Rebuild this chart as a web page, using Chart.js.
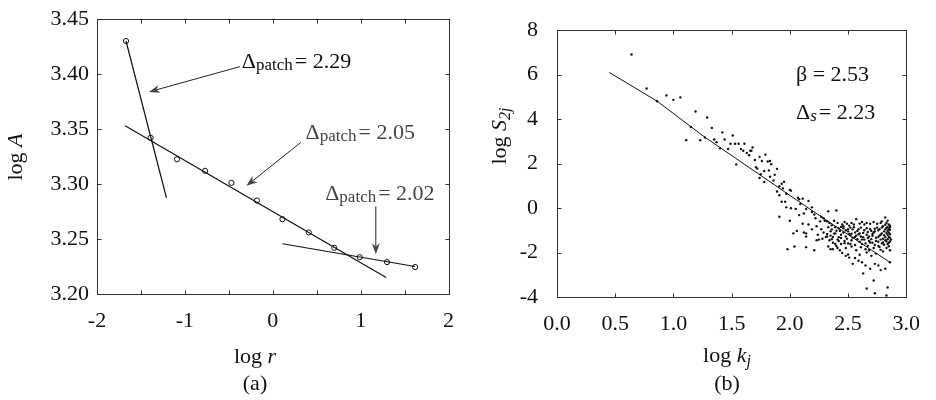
<!DOCTYPE html>
<html>
<head>
<meta charset="utf-8">
<script src="https://cdn.jsdelivr.net/npm/chart.js@4.4.0/dist/chart.umd.min.js"></script>
<style>
    body { margin: 0; background: #fff; }
    #wrapA { position: absolute; left: 0; top: 0; width: 470px; height: 400px; }
    #wrapB { position: absolute; left: 470px; top: 0; width: 466px; height: 400px; }
</style>
</head>
<body>
<div id="wrapA"><canvas id="chartA"></canvas></div>
<div id="wrapB"><canvas id="chartB"></canvas></div>
<script>
const SERIF = "'Liberation Serif', 'Times New Roman', serif";

// (a) log A against log r
const aLogR = [-1.67, -1.39, -1.09, -0.77, -0.47, -0.18, 0.11, 0.41, 0.70, 0.99, 1.30, 1.62];
const aLogA = [3.430, 3.342, 3.3225, 3.312, 3.301, 3.285, 3.268, 3.256, 3.242, 3.2335, 3.229, 3.2245];
const aFit1X = [-1.67, -1.21];
const aFit1Y = [3.430, 3.2875];
const aFit2X = [-1.68, 1.29];
const aFit2Y = [3.353, 3.215];
const aFit3X = [0.11, 1.62];
const aFit3Y = [3.2457, 3.225];
const aXTicks = [-2, -1, 0, 1, 2];
const aXMarks = [-2, -1.5, -1, -0.5, 0, 0.5, 1, 1.5, 2];
const aYTicks = [3.20, 3.25, 3.30, 3.35, 3.40, 3.45];
const aDeltas = ["2.29", "2.05", "2.02"];

// (b) log S2j against log kj
const bFitX = [0.45, 0.86, 1.26, 2.01, 2.32, 2.86];
const bFitY = [6.09, 4.80, 3.22, 0.53, -0.57, -2.44];
const bPoints = [
    [0.64, 6.90], [0.77, 5.37], [0.86, 4.80], [0.94, 5.06], [1.00, 4.86], [1.06, 4.97], [1.19, 4.34], [1.15, 3.64],
    [1.29, 4.07], [1.33, 3.60], [1.11, 3.05], [1.23, 3.05], [1.27, 3.17], [1.42, 3.40], [1.51, 3.26], [1.35, 3.08],
    [1.37, 2.96], [1.44, 3.08], [1.40, 2.68], [1.47, 2.65], [1.49, 2.89], [1.53, 2.89], [1.56, 2.89], [1.61, 2.89],
    [1.68, 2.72], [1.58, 2.65], [1.60, 2.57], [1.63, 2.47], [1.66, 2.57], [1.67, 2.57], [1.65, 2.37], [1.54, 1.96],
    [1.70, 2.16], [1.74, 2.30], [1.79, 2.40], [1.76, 2.11], [1.81, 2.09], [1.83, 2.11], [1.84, 1.97], [1.71, 1.83],
    [1.72, 1.77], [1.89, 1.76], [1.82, 1.69], [1.78, 1.66], [1.75, 1.52], [1.74, 1.35], [1.83, 1.41], [1.87, 1.49],
    [1.78, 1.17], [1.86, 1.24], [1.93, 1.09], [1.95, 1.18], [1.91, 0.98], [1.94, 0.88], [1.89, 0.74], [1.97, 0.64],
    [2.00, 0.81], [1.91, 0.57], [1.93, 0.28], [1.96, 0.28], [2.01, 0.78], [2.07, 0.46], [2.08, 0.39], [2.11, 0.42],
    [2.16, 0.32], [2.09, 0.18], [1.97, 0.03], [2.01, -0.01], [2.05, -0.04], [2.14, -0.04], [2.19, 0.03], [1.91, -0.39],
    [2.00, -0.57], [2.08, -0.32], [2.12, -0.25], [2.19, -0.18], [2.21, -0.29], [2.22, -0.46], [2.27, -0.39], [2.29, -0.46],
    [2.30, -0.57], [2.26, -0.60], [2.11, -0.71], [2.16, -0.74], [2.23, -0.82], [2.06, -1.03], [2.12, -1.10], [2.19, -0.96],
    [2.14, -1.14], [2.03, -1.14], [2.25, -1.42], [2.32, -1.28], [2.28, -1.38], [2.23, -1.45], [2.14, -1.28], [1.98, -1.85],
    [2.04, -1.73], [2.14, -1.76], [2.21, -1.90],
    [2.33, -0.15], [2.40, -0.11], [2.57, -0.50], [2.82, -0.43],
    [2.32, -0.60], [2.34, -0.67], [2.38, -0.57], [2.41, -0.67], [2.45, -0.74], [2.47, -0.63], [2.49, -0.71], [2.51, -0.79],
    [2.53, -0.67], [2.55, -0.74], [2.60, -0.70], [2.62, -0.63], [2.64, -0.74], [2.66, -0.67], [2.69, -0.71], [2.72, -0.63],
    [2.75, -0.71], [2.78, -0.67], [2.79, -0.60], [2.83, -0.67], [2.85, -0.74], [2.84, -0.57],
    [2.33, -0.86], [2.36, -0.96], [2.39, -0.86], [2.43, -1.03], [2.46, -0.91], [2.48, -1.00], [2.52, -0.88], [2.54, -0.96],
    [2.58, -1.03], [2.61, -0.88], [2.64, -1.00], [2.66, -0.91], [2.70, -1.03], [2.73, -0.93], [2.76, -1.00], [2.79, -0.88],
    [2.82, -0.96], [2.84, -1.03], [2.86, -0.86],
    [2.32, -1.17], [2.35, -1.24], [2.39, -1.14], [2.42, -1.31], [2.44, -1.20], [2.48, -1.28], [2.51, -1.17], [2.54, -1.34],
    [2.57, -1.24], [2.60, -1.14], [2.63, -1.31], [2.66, -1.20], [2.68, -1.28], [2.71, -1.17], [2.74, -1.34], [2.77, -1.24],
    [2.79, -1.14], [2.82, -1.31], [2.84, -1.20], [2.86, -1.34],
    [2.34, -1.45], [2.37, -1.56], [2.41, -1.42], [2.44, -1.62], [2.47, -1.48], [2.50, -1.59], [2.53, -1.45], [2.56, -1.66],
    [2.60, -1.52], [2.62, -1.42], [2.65, -1.59], [2.68, -1.48], [2.71, -1.56], [2.73, -1.66], [2.76, -1.52], [2.79, -1.59],
    [2.82, -1.45], [2.85, -1.56], [2.87, -1.42],
    [2.33, -1.73], [2.37, -1.85], [2.40, -1.71], [2.43, -1.90], [2.48, -1.80], [2.53, -1.73], [2.57, -1.90], [2.61, -1.76],
    [2.65, -1.85], [2.68, -1.90], [2.72, -1.80], [2.76, -1.71], [2.78, -1.88], [2.83, -1.80], [2.86, -1.90],
    [2.80, -0.82], [2.83, -0.90], [2.85, -1.10], [2.81, -1.05], [2.78, -1.20], [2.84, -1.40], [2.80, -1.38], [2.76, -1.30],
    [2.72, -1.10], [2.69, -0.95], [2.67, -1.08], [2.63, -1.12], [2.59, -0.95], [2.56, -1.10], [2.52, -1.22], [2.49, -1.38],
    [2.46, -1.10], [2.44, -0.85], [2.40, -1.02], [2.37, -1.30], [2.35, -1.05], [2.58, -1.40], [2.62, -1.62], [2.67, -1.70],
    [2.70, -1.40], [2.74, -1.48], [2.77, -1.75], [2.81, -1.65], [2.85, -1.72], [2.86, -1.18], [2.86, -0.98], [2.86, -0.80],
    [2.83, -1.50], [2.55, -0.86], [2.50, -0.95], [2.47, -1.58], [2.42, -1.48], [2.39, -1.62], [2.36, -1.40], [2.31, -1.30],
    [2.36, -0.78], [2.42, -0.92], [2.46, -0.82], [2.50, -1.05], [2.53, -1.15], [2.56, -1.30], [2.59, -1.18], [2.61, -1.28],
    [2.64, -1.42], [2.67, -1.35], [2.69, -1.55], [2.71, -1.25], [2.73, -1.05], [2.75, -0.88], [2.77, -0.95], [2.78, -1.42],
    [2.80, -1.55], [2.81, -1.22], [2.82, -0.75], [2.83, -1.12], [2.84, -1.62], [2.85, -1.30], [2.85, -0.95], [2.86, -1.50],
    [2.84, -0.85], [2.80, -1.95], [2.74, -2.05], [2.70, -2.15], [2.66, -2.00], [2.60, -2.10], [2.56, -2.25], [2.48, -2.15],
    [2.41, -1.80], [2.38, -1.15], [2.44, -1.35], [2.27, -0.95], [2.29, -1.10], [2.24, -1.20], [2.35, -1.85], [2.52, -1.62],
    [2.45, -2.02], [2.50, -2.09], [2.51, -2.23], [2.54, -2.51], [2.59, -2.37], [2.62, -2.44], [2.65, -2.58], [2.69, -2.73],
    [2.73, -2.51], [2.76, -2.58], [2.78, -2.79], [2.82, -2.73], [2.86, -2.44], [2.63, -2.94], [2.72, -3.26], [2.66, -3.62],
    [2.73, -3.83], [2.84, -3.57], [2.83, -3.93]
];
const bXTicks = [0, 0.5, 1, 1.5, 2, 2.5, 3];
const bYTicks = [-4, -2, 0, 2, 4, 6, 8];

// annotation anchors in data units: text baseline start, arrow tail, arrow tip
const aNoteText = [[-0.352, 3.4052], [0.374, 3.3413], [0.597, 3.2854]];
const aArrowFrom = [[-0.374, 3.4067], [0.319, 3.3378], [1.173, 3.2795]];
const aArrowTo = [[-1.41, 3.3837], [-0.30, 3.2983], [1.173, 3.2362]];

function toXY(xs, ys) {
    return xs.map((v, i) => ({ x: v, y: ys[i] }));
}

function drawParts(ctx, parts, x, y, align) {
    let w = 0;
    parts.forEach(p => { ctx.font = p.font; w += ctx.measureText(p.text).width + (p.gap || 0); });
    let cx = align === "center" ? x - w / 2 : x;
    parts.forEach(p => {
        ctx.font = p.font;
        ctx.fillText(p.text, cx, y + (p.dy || 0));
        cx += ctx.measureText(p.text).width + (p.gap || 0);
    });
}

function arrow(ctx, x1, y1, x2, y2) {
    const ang = Math.atan2(y2 - y1, x2 - x1);
    const len = 11, half = 4;
    ctx.beginPath();
    ctx.moveTo(x1, y1);
    ctx.lineTo(x2 - Math.cos(ang) * len * 0.7, y2 - Math.sin(ang) * len * 0.7);
    ctx.strokeStyle = "#222";
    ctx.lineWidth = 1;
    ctx.stroke();
    ctx.beginPath();
    ctx.moveTo(x2, y2);
    ctx.lineTo(x2 - Math.cos(ang) * len + Math.sin(ang) * half, y2 - Math.sin(ang) * len - Math.cos(ang) * half);
    ctx.lineTo(x2 - Math.cos(ang) * len * 0.7, y2 - Math.sin(ang) * len * 0.7);
    ctx.lineTo(x2 - Math.cos(ang) * len - Math.sin(ang) * half, y2 - Math.sin(ang) * len + Math.cos(ang) * half);
    ctx.closePath();
    ctx.fillStyle = "#444";
    ctx.fill();
}

// box round the plot with inward tick marks on every side
const frame = {
    id: "frame",
    afterDatasetsDraw(chart, args, opts) {
        const { ctx, chartArea: a, scales: { x, y } } = chart;
        const L = Math.round(a.left) + 0.5, R = Math.round(a.right) + 0.5;
        const T = Math.round(a.top) + 0.5, B = Math.round(a.bottom) + 0.5;
        ctx.save();
        ctx.strokeStyle = "#333";
        ctx.lineWidth = 1;
        ctx.strokeRect(L, T, R - L, B - T);
        ctx.beginPath();
        opts.xMarks.forEach(v => {
            const px = Math.round(x.getPixelForValue(v)) + 0.5;
            ctx.moveTo(px, B); ctx.lineTo(px, B - 4);
            ctx.moveTo(px, T); ctx.lineTo(px, T + 4);
        });
        opts.yMarks.forEach(v => {
            const py = Math.round(y.getPixelForValue(v)) + 0.5;
            ctx.moveTo(L, py); ctx.lineTo(L + 4, py);
            ctx.moveTo(R, py); ctx.lineTo(R - 4, py);
        });
        ctx.stroke();
        ctx.restore();
    }
};

const big = "22px " + SERIF;
const bigItalic = "italic 22px " + SERIF;

const notesA = {
    id: "notesA",
    afterDraw(chart) {
        const { ctx, scales: { x, y } } = chart;
        ctx.save();
        ctx.fillStyle = "#111";
        ctx.textBaseline = "alphabetic";
        ctx.textAlign = "left";
        aDeltas.forEach((d, i) => {
            drawParts(ctx, [
                { text: "\u0394", font: big },
                { text: "patch", font: "17px " + SERIF, dy: 2, gap: 2 },
                { text: "= " + d, font: big }
            ], x.getPixelForValue(aNoteText[i][0]), y.getPixelForValue(aNoteText[i][1]), "left");
            arrow(ctx, x.getPixelForValue(aArrowFrom[i][0]), y.getPixelForValue(aArrowFrom[i][1]),
                x.getPixelForValue(aArrowTo[i][0]), y.getPixelForValue(aArrowTo[i][1]));
        });
        ctx.fillStyle = "#111";
        drawParts(ctx, [{ text: "log ", font: big }, { text: "r", font: bigItalic }], 255, 363, "center");
        drawParts(ctx, [{ text: "(a)", font: big }], 255, 390, "center");
        ctx.translate(22, 157);
        ctx.rotate(-Math.PI / 2);
        drawParts(ctx, [{ text: "log ", font: big }, { text: "A", font: bigItalic }], 0, 0, "center");
        ctx.restore();
    }
};

const notesB = {
    id: "notesB",
    afterDraw(chart) {
        const { ctx, scales: { x, y } } = chart;
        ctx.save();
        ctx.fillStyle = "#111";
        ctx.textBaseline = "alphabetic";
        ctx.textAlign = "left";
        drawParts(ctx, [{ text: "\u03b2 = 2.53", font: big }], x.getPixelForValue(2.053), y.getPixelForValue(5.695), "left");
        drawParts(ctx, [
            { text: "\u0394", font: big },
            { text: "s", font: "italic 17px " + SERIF, dy: 2, gap: 2 },
            { text: "= 2.23", font: big }
        ], x.getPixelForValue(2.053), y.getPixelForValue(4.0), "left");
        drawParts(ctx, [
            { text: "log ", font: big },
            { text: "k", font: bigItalic },
            { text: "j", font: "italic 16px " + SERIF, dy: 4 }
        ], 257, 362, "center");
        drawParts(ctx, [{ text: "(b)", font: big }], 257, 390, "center");
        ctx.translate(36, 136);
        ctx.rotate(-Math.PI / 2);
        drawParts(ctx, [
            { text: "log ", font: big },
            { text: "S", font: bigItalic },
            { text: "2j", font: "italic 16px " + SERIF, dy: 4 }
        ], 0, 0, "center");
        ctx.restore();
    }
};

function tickFont() {
    return { family: SERIF, size: 22, lineHeight: 1 };
}

new Chart(document.getElementById("chartA"), {
    type: "scatter",
    data: {
        datasets: [
            { data: toXY(aFit1X, aFit1Y), showLine: true, borderColor: "#111", borderWidth: 1.2, pointRadius: 0 },
            { data: toXY(aFit2X, aFit2Y), showLine: true, borderColor: "#111", borderWidth: 1.2, pointRadius: 0 },
            { data: toXY(aFit3X, aFit3Y), showLine: true, borderColor: "#111", borderWidth: 1.2, pointRadius: 0 },
            {
                data: toXY(aLogR, aLogA), showLine: false, pointRadius: 2.6, pointBorderWidth: 1,
                pointBorderColor: "#111", pointBackgroundColor: "#fff"
            }
        ]
    },
    options: {
        responsive: true,
        maintainAspectRatio: false,
        animation: false,
        layout: { padding: { left: 0, top: 11, right: 9, bottom: 0 } },
        plugins: {
            legend: { display: false },
            tooltip: { enabled: false },
            frame: { xMarks: aXMarks, yMarks: aYTicks }
        },
        scales: {
            x: {
                type: "linear", min: -2, max: 2,
                grid: { display: false, drawTicks: false },
                border: { display: false },
                afterBuildTicks: s => { s.ticks = aXTicks.map(v => ({ value: v })); },
                afterFit: s => { s.height = 106; },
                ticks: { padding: 16, color: "#111", font: tickFont(), maxRotation: 0, callback: v => String(v) }
            },
            y: {
                type: "linear", min: 3.2, max: 3.45,
                grid: { display: false, drawTicks: false },
                border: { display: false },
                afterBuildTicks: s => { s.ticks = aYTicks.map(v => ({ value: v })); },
                afterFit: s => { s.width = 97; },
                ticks: { padding: 8, color: "#111", font: tickFont(), callback: v => v.toFixed(2) }
            }
        }
    },
    plugins: [frame, notesA]
});

new Chart(document.getElementById("chartB"), {
    type: "scatter",
    data: {
        datasets: [
            { data: toXY(bFitX, bFitY), showLine: true, borderColor: "#111", borderWidth: 1, pointRadius: 0 },
            {
                data: bPoints.map(p => ({ x: p[0], y: p[1] })), showLine: false, pointRadius: 1.2,
                pointBorderWidth: 0, pointBackgroundColor: "#111"
            }
        ]
    },
    options: {
        responsive: true,
        maintainAspectRatio: false,
        animation: false,
        layout: { padding: { left: 0, top: 14, right: 19, bottom: 0 } },
        plugins: {
            legend: { display: false },
            tooltip: { enabled: false },
            frame: { xMarks: bXTicks, yMarks: bYTicks }
        },
        scales: {
            x: {
                type: "linear", min: 0, max: 3,
                grid: { display: false, drawTicks: false },
                border: { display: false },
                afterBuildTicks: s => { s.ticks = bXTicks.map(v => ({ value: v })); },
                afterFit: s => { s.height = 103; },
                ticks: { padding: 16, color: "#111", font: tickFont(), maxRotation: 0, callback: v => v.toFixed(1) }
            },
            y: {
                type: "linear", min: -4, max: 8,
                grid: { display: false, drawTicks: false },
                border: { display: false },
                afterBuildTicks: s => { s.ticks = bYTicks.map(v => ({ value: v })); },
                afterFit: s => { s.width = 87; },
                ticks: { padding: 19, color: "#111", font: tickFont(), callback: v => String(v) }
            }
        }
    },
    plugins: [frame, notesB]
});
</script>
</body>
</html>
